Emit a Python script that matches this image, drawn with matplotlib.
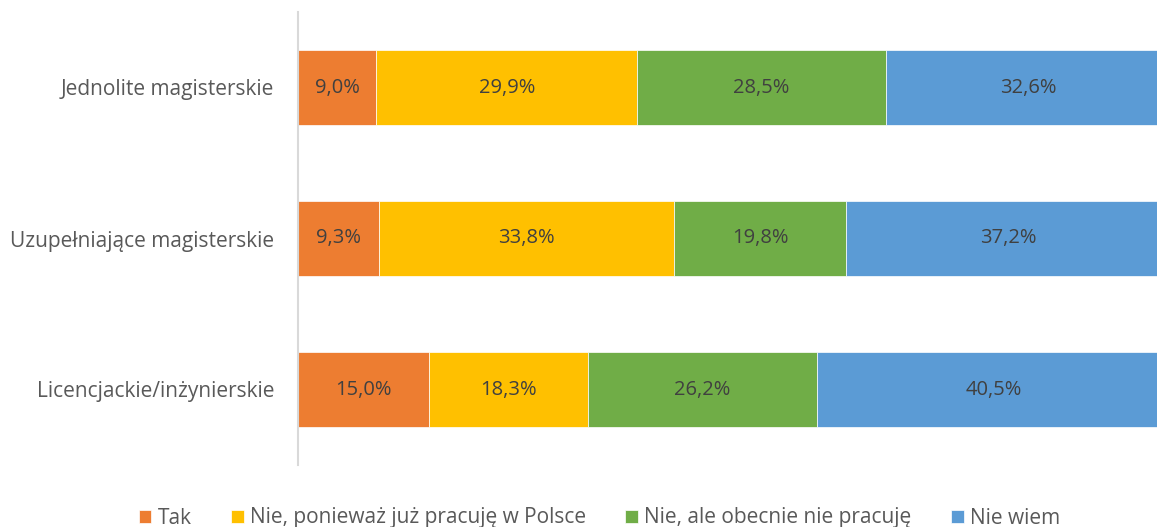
import matplotlib
matplotlib.use("Agg")
import matplotlib.pyplot as plt
import numpy as np

categories = ["Licencjackie/inżynierskie", "Uzupełniające magisterskie", "Jednolite magisterskie"]
series_names = ["Tak", "Nie, ponieważ już pracuję w Polsce", "Nie, ale obecnie nie pracuję", "Nie wiem"]
tak = [15.0, 9.3, 9.0]
nie_pracuje_pl = [18.3, 33.8, 29.9]
nie_nie_pracuje = [26.2, 19.8, 28.5]
nie_wiem = [40.5, 37.2, 32.6]
colors = ["#ED7D31", "#FFC000", "#70AD47", "#5B9BD5"]

plt.rcParams['font.family'] = ['Open Sans', 'DejaVu Sans']
text_color = "#595959"

fig = plt.figure(figsize=(11.57, 5.27), dpi=100)
ax = fig.add_axes([298/1157, 62/527, 872/1157, (465-12)/527])

y = np.arange(len(categories))
left = np.zeros(len(categories))
for name, vals, c in zip(series_names, [tak, nie_pracuje_pl, nie_nie_pracuje, nie_wiem], colors):
    vals = np.array(vals)
    ax.barh(y, vals, left=left, height=0.5, color=c, edgecolor="white", linewidth=0.5, label=name)
    for yi, l, v in zip(y, left, vals):
        ax.text(l + v/2, yi, f"{v:.1f}".replace(".", ",") + "%", ha="center", va="center",
                fontsize=14.5, color="#404040")
    left += vals

ax.set_xlim(0, 100)
ax.set_ylim(-0.5, 2.5)
ax.set_yticks(y)
ax.set_yticklabels(categories, fontsize=15, color=text_color)
ax.tick_params(axis='y', length=0, pad=17)
ax.set_xticks([])
for s in ["top", "right", "bottom"]:
    ax.spines[s].set_visible(False)
ax.spines["left"].set_color("#D9D9D9")
ax.spines["left"].set_linewidth(1.5)

leg = fig.legend(loc="center", bbox_to_anchor=(0.518, 9/527), ncol=4, frameon=False,
                 fontsize=15, handlelength=0.6, handleheight=0.6, handletextpad=0.3,
                 columnspacing=1.9)
for t in leg.get_texts():
    t.set_color(text_color)

fig.savefig("out.png", dpi=100)
